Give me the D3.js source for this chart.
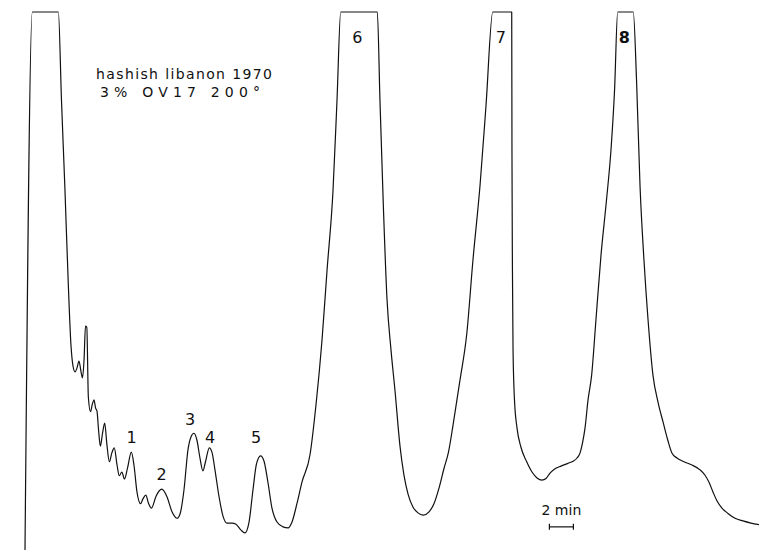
<!DOCTYPE html>
<html>
<head>
<meta charset="utf-8">
<script src="https://cdn.jsdelivr.net/npm/d3@7"></script>
<style>
  body { margin: 0; background: #fff; }
  svg { display: block; }
  .trace { fill: none; stroke: #111; stroke-width: 1.2; stroke-linejoin: round; }
  .lbl { font-family: "DejaVu Sans", sans-serif; fill: #111; }
</style>
</head>
<body>
<div id="chart"></div>
<script>
// retention time (min) and detector response (% of full scale, 100 = pen at top)
var time = [
  0, 0.61, 2.78, 3.04, 3.33, 3.61, 3.83, 4.00, 4.17, 4.33, 4.50, 4.67, 4.79, 4.92, 5.04, 5.15,
  5.28, 5.46, 5.61, 5.75, 5.88, 6.00, 6.13, 6.28, 6.46, 6.64, 6.83, 7.03, 7.23, 7.44, 7.67, 7.86,
  8.07, 8.29, 8.54, 8.86, 9.08, 9.33, 9.63, 9.83, 10.07, 10.29, 10.54, 10.92, 11.39, 11.83, 12.25,
  12.67, 12.92, 13.25, 13.58, 13.83, 14.08, 14.33, 14.58, 14.83, 15.04, 15.36, 15.58, 15.83, 16.17,
  16.50, 16.83, 17.25, 17.58, 18.00, 18.33, 18.67, 19.00, 19.29, 19.63, 19.92, 20.25, 20.58, 21.00,
  21.50, 21.92, 22.25, 22.67, 23.08, 23.75, 24.25, 24.75, 25.17, 25.67, 26.00, 26.31, 29.36, 29.58,
  29.86, 30.17, 30.50, 30.83, 31.25, 31.58, 31.92, 32.33, 32.75, 33.19, 33.67, 34.08, 34.50, 34.92,
  35.29, 35.67, 36.25, 36.81, 37.33, 37.92, 38.42, 38.98, 40.56, 40.58, 40.62, 40.67, 40.79, 41.00,
  41.33, 41.79, 42.25, 42.67, 43.08, 43.42, 43.75, 44.17, 44.67, 45.25, 45.67, 46.00, 46.25, 46.46,
  46.67, 46.92, 47.22, 47.58, 48.00, 48.46, 48.83, 49.13, 49.39, 50.69, 50.96, 51.25, 51.58, 51.92,
  52.33, 52.75, 53.17, 53.58, 53.92, 54.33, 54.92, 55.58, 56.25, 56.67, 57.00, 57.33, 57.67, 58.08,
  58.58, 59.17, 59.83, 60.50, 61.17
];
var response = [
  0, 100, 100, 83.6, 66.9, 49.3, 38.1, 34.2, 33.1, 33.8, 35.1, 33.1, 32.0, 35.3, 41.6, 41.4,
  28.4, 25.7, 27.1, 27.9, 26.4, 25.8, 22.3, 19.3, 21.7, 23.6, 19.5, 16.4, 18.0, 19.0, 15.8, 13.8,
  14.5, 13.2, 15.2, 18.2, 15.8, 10.8, 8.6, 9.5, 10.2, 8.7, 7.8, 10.0, 11.3, 9.9, 7.1,
  5.9, 6.7, 11.2, 18.6, 21.0, 21.7, 20.4, 17.1, 14.7, 16.4, 19.0, 18.2, 14.9, 9.9,
  6.3, 5.0, 5.0, 4.8, 3.7, 3.2, 5.2, 11.2, 16.0, 17.5, 16.5, 12.5, 7.8, 5.2,
  4.3, 4.1, 5.2, 8.7, 12.6, 17.7, 27.0, 39.0, 52.0, 66.9, 83.6, 100, 100, 83.6,
  64.1, 46.5, 37.2, 29.7, 19.3, 13.9, 10.4, 8.0, 6.9, 6.5, 7.1, 8.6, 11.5, 15.2,
  18.2, 23.2, 31.6, 40.1, 53.9, 67.8, 82.7, 100, 100, 74.3, 52.0, 37.2, 27.9, 22.7,
  19.1, 16.5, 14.5, 13.4, 13.0, 13.3, 14.3, 15.1, 15.6, 16.1, 16.5, 17.1, 18.0, 19.9,
  22.7, 27.9, 32.5, 42.8, 54.8, 65.1, 74.3, 85.5, 100, 100, 87.4, 67.8, 53.9, 42.8,
  32.5, 27.5, 23.8, 20.3, 18.0, 17.1, 16.4, 15.8, 14.9, 13.9, 12.6, 10.8, 9.1, 7.8,
  6.8, 5.9, 5.4, 5.0, 4.7
];

// peak numbers with the retention time and height where the number is written
var peakNames = ["1", "2", "3", "4", "5", "6", "7", "8"];
var peakLabelTime = [8.88, 11.39, 13.75, 15.42, 19.25, 27.7, 39.65, 49.95];
var peakLabelLevel = [19.8, 13.1, 23.2, 19.8, 19.8, 94.3, 94.3, 94.3];

var caption = ["hashish libanon 1970", "3% OV17 200\u00b0"];

// time scale bar
var barStart = 43.7;
var barLength = 2;
var barLevel = 4.3;
var barText = "2 min";

var width = 759, height = 550;

var x = d3.scaleLinear().domain([0, 61.25]).range([25, 760]);
var y = d3.scaleLinear().domain([0, 100]).range([550, 12]);

var svg = d3.select("#chart").append("svg")
  .attr("width", width)
  .attr("height", height)
  .attr("viewBox", "0 0 " + width + " " + height);

svg.append("rect").attr("width", width).attr("height", height).attr("fill", "#fff");

var points = time.map(function(t, i) { return [t, response[i]]; });

var line = d3.line()
  .x(function(d) { return x(d[0]); })
  .y(function(d) { return y(d[1]); })
  .curve(d3.curveMonotoneX);

svg.append("path")
  .attr("class", "trace")
  .attr("d", line(points));

// peak numbers
svg.selectAll("text.peak")
  .data(peakNames)
  .enter().append("text")
  .attr("class", "lbl peak")
  .attr("x", function(d, i) { return x(peakLabelTime[i]); })
  .attr("y", function(d, i) { return y(peakLabelLevel[i]); })
  .attr("text-anchor", "middle")
  .style("font-size", "16px")
  .style("font-weight", function(d) { return d == "8" ? "bold" : "normal"; })
  .text(function(d) { return d; });

// caption
svg.append("text")
  .attr("class", "lbl")
  .attr("x", 96).attr("y", 79)
  .attr("textLength", 176)
  .style("font-size", "14px")
  .text(caption[0]);
svg.append("text")
  .attr("class", "lbl")
  .attr("x", 100).attr("y", 97)
  .attr("textLength", 160)
  .style("font-size", "14px")
  .text(caption[1]);

// scale bar
var bar = svg.append("g").attr("stroke", "#111").attr("stroke-width", 1.2);
bar.append("line")
  .attr("x1", x(barStart)).attr("x2", x(barStart + barLength))
  .attr("y1", y(barLevel)).attr("y2", y(barLevel));
[barStart, barStart + barLength].forEach(function(t) {
  bar.append("line")
    .attr("x1", x(t)).attr("x2", x(t))
    .attr("y1", y(barLevel) - 3).attr("y2", y(barLevel) + 3);
});
svg.append("text")
  .attr("class", "lbl")
  .attr("x", x(barStart + barLength / 2))
  .attr("y", y(barLevel) - 12)
  .attr("text-anchor", "middle")
  .style("font-size", "14px")
  .text(barText);
</script>
</body>
</html>
